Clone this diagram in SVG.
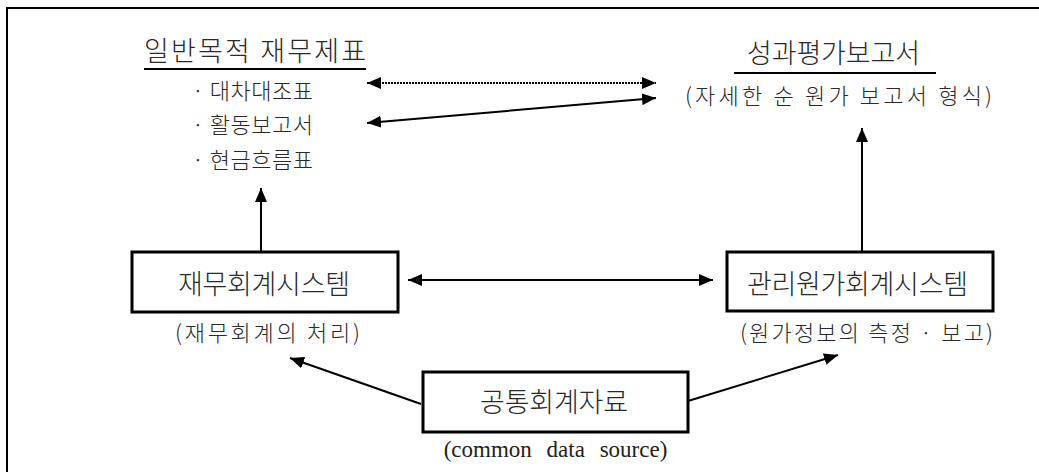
<svg xmlns="http://www.w3.org/2000/svg" width="1039" height="472" viewBox="0 0 1039 472">
<style>
.ko{font-family:"Noto Sans CJK KR","Noto Sans",sans-serif;fill:#2a2a2a;font-weight:300}
.t{font-size:27px}
.s{font-size:22px}
.en{font-family:"Liberation Serif",serif;font-size:23px;fill:#222;word-spacing:9px}
.box{fill:#fff;stroke:#000;stroke-width:3}
.ln{stroke:#000;stroke-width:2;fill:none}
.dot{stroke:#000;stroke-width:2;fill:none;stroke-dasharray:2 1}
</style>
<defs>
<marker id="ah" viewBox="0 0 14 12" refX="14" refY="6" markerWidth="14" markerHeight="12" markerUnits="userSpaceOnUse" orient="auto-start-reverse">
<path d="M0,0 L14,6 L0,12 Z" fill="#000"/>
</marker>
</defs>
<g id="frame">
<path d="M7,472 L7,8 L1039,8" class="ln"/>
</g>
<g id="gp-statements">
<text class="ko t" x="144" y="61" textLength="222" lengthAdjust="spacing">일반목적 재무제표</text>
<line x1="144" y1="69" x2="366" y2="69" stroke="#000" stroke-width="2"/>
<text class="ko s" x="192" y="99" textLength="121" lengthAdjust="spacing">· 대차대조표</text>
<text class="ko s" x="192" y="133" textLength="121" lengthAdjust="spacing">· 활동보고서</text>
<text class="ko s" x="192" y="168" textLength="121" lengthAdjust="spacing">· 현금흐름표</text>
</g>
<g id="perf-report">
<text class="ko t" x="747" y="63" textLength="173" lengthAdjust="spacing">성과평가보고서</text>
<line x1="734" y1="73" x2="936" y2="73" stroke="#000" stroke-width="2"/>
<text class="ko s" x="685" y="104" textLength="307" lengthAdjust="spacing">(자세한 순 원가 보고서 형식)</text>
</g>
<g id="fin-system">
<rect class="box" x="132" y="252" width="266" height="60"/>
<text class="ko t" x="178" y="294" textLength="172" lengthAdjust="spacing">재무회계시스템</text>
<text class="ko s" x="175" y="341" textLength="185" lengthAdjust="spacing">(재무회계의 처리)</text>
</g>
<g id="cost-system">
<rect class="box" x="727" y="252" width="266" height="59"/>
<text class="ko t" x="747" y="294" textLength="221" lengthAdjust="spacing">관리원가회계시스템</text>
<text class="ko s" x="740" y="341" textLength="253" lengthAdjust="spacing">(원가정보의 측정 · 보고)</text>
</g>
<g id="common-data">
<rect class="box" x="423" y="372" width="265" height="60"/>
<text class="ko t" x="480" y="412" textLength="148" lengthAdjust="spacing">공통회계자료</text>
<text class="en" x="555.5" y="457" text-anchor="middle">(common data source)</text>
</g>
<g id="connectors">
<line class="dot" x1="367" y1="83" x2="656" y2="83" marker-start="url(#ah)" marker-end="url(#ah)"/>
<line class="ln" x1="367" y1="123" x2="656" y2="98" marker-start="url(#ah)" marker-end="url(#ah)"/>
<line class="ln" x1="261" y1="252" x2="261" y2="188" marker-end="url(#ah)"/>
<line class="ln" x1="862" y1="252" x2="862" y2="128" marker-end="url(#ah)"/>
<line class="ln" x1="408" y1="280" x2="713" y2="280" marker-start="url(#ah)" marker-end="url(#ah)"/>
<line class="ln" x1="421" y1="404" x2="290" y2="358" marker-end="url(#ah)"/>
<line class="ln" x1="688" y1="401" x2="838" y2="355" marker-end="url(#ah)"/>
</g>
</svg>
